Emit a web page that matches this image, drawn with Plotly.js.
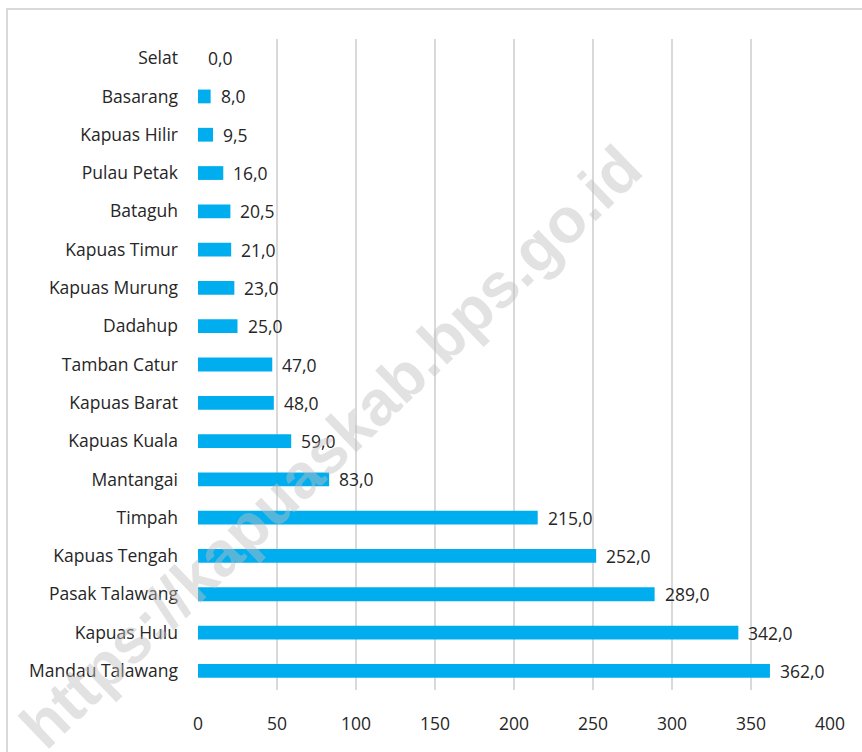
<!DOCTYPE html>
<html>
<head>
<meta charset="utf-8">
<script src="https://cdn.plot.ly/plotly-3.0.1.min.js"></script>
<style>
  html, body { margin: 0; padding: 0; background: #ffffff; }
  #chart { width: 862px; height: 752px; }
</style>
</head>
<body>
<div id="chart"></div>
<script>
const categories = ["Selat", "Basarang", "Kapuas Hilir", "Pulau Petak", "Bataguh", "Kapuas Timur",
  "Kapuas Murung", "Dadahup", "Tamban Catur", "Kapuas Barat", "Kapuas Kuala", "Mantangai",
  "Timpah", "Kapuas Tengah", "Pasak Talawang", "Kapuas Hulu", "Mandau Talawang"];
const values = [0.0, 8.0, 9.5, 16.0, 20.5, 21.0, 23.0, 25.0, 47.0, 48.0, 59.0, 83.0,
  215.0, 252.0, 289.0, 342.0, 362.0];
const xTicks = [0, 50, 100, 150, 200, 250, 300, 350, 400];
const watermark = "https://kapuaskab.bps.go.id";

const fmt = v => v.toFixed(1).replace('.', ',');
const FONT = "Open Sans, sans-serif";
const TXT = "#262626";
const FS = 17.5;

const trace = {
  type: "bar",
  orientation: "h",
  x: values,
  y: categories,
  width: 0.36,
  marker: { color: "#00aeef" },
  hoverinfo: "x+y"
};

const annotations = categories.map((c, i) => ({
  x: values[i], y: c, xref: "x", yref: "y",
  text: fmt(values[i]), showarrow: false,
  xanchor: "left", yanchor: "middle", xshift: 8,
  font: { family: FONT, size: FS, color: TXT }
}));

annotations.push({
  xref: "paper", yref: "paper",
  x: (330 - 198) / 632, y: (690 - 447) / 651,
  xanchor: "center", yanchor: "middle",
  text: "<b>" + watermark + "</b>",
  showarrow: false, textangle: -44,
  font: { family: "Liberation Sans, Arial, sans-serif", size: 63, color: "rgba(190,190,190,0.45)" }
});

const layout = {
  width: 862, height: 752,
  margin: { l: 198, r: 32, t: 39, b: 62 },
  paper_bgcolor: "#ffffff",
  plot_bgcolor: "#ffffff",
  showlegend: false,
  bargap: 0.64,
  font: { family: FONT, size: FS, color: TXT },
  xaxis: {
    range: [0, 400],
    tickvals: xTicks,
    ticktext: xTicks.map(String),
    showgrid: true,
    gridcolor: "#d9d9d9",
    gridwidth: 2,
    zeroline: false,
    showline: false,
    ticks: "",
    ticklabelstandoff: 21,
    tickfont: { family: FONT, size: FS, color: TXT },
    fixedrange: true
  },
  yaxis: {
    type: "category",
    autorange: "reversed",
    showgrid: false,
    zeroline: false,
    showline: false,
    ticks: "",
    ticklabelstandoff: 19,
    tickfont: { family: FONT, size: FS, color: TXT },
    fixedrange: true
  },
  shapes: [{
    type: "rect", xref: "paper", yref: "paper",
    x0: (7 - 198) / 632, x1: (875 - 198) / 632,
    y0: (690 - 770) / 651, y1: (690 - 9) / 651,
    line: { color: "#d9d9d9", width: 2 },
    fillcolor: "rgba(0,0,0,0)",
    layer: "below"
  }],
  annotations: annotations
};

Plotly.newPlot("chart", [trace], layout, { displayModeBar: false, staticPlot: true });
</script>
</body>
</html>
